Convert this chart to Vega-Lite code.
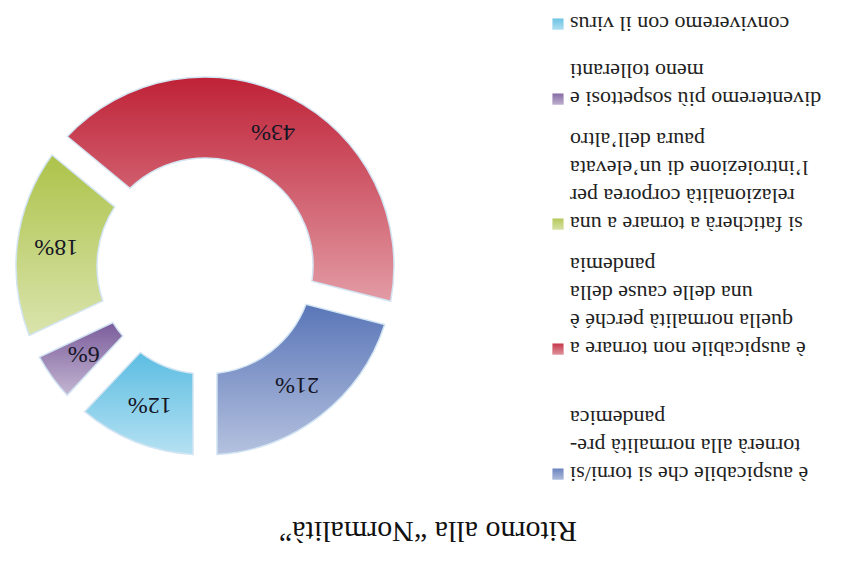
{
  "$schema": "https://vega.github.io/schema/vega-lite/v6.json",
  "padding": {"left": 0, "right": 0, "top": 12, "bottom": 0},
  "background": "white",
  "config": {"view": {"stroke": null}, "font": "Liberation Serif", "concat": {"spacing": 142}},
  "title": {"text": "Ritorno alla “Normalità”", "orient": "bottom", "angle": 180, "baseline": "bottom", "fontSize": 30, "fontWeight": "normal", "color": "#111111", "font": "Liberation Serif", "anchor": "middle", "offset": 8},
  "datasets": {
    "risposte": [
      {"voce": "è auspicabile che si torni/si\ntornerà alla normalità pre-\npandemica", "quota": 0.21, "ordine": 1, "riga": 0},
      {"voce": "è auspicabile non tornare a\nquella normalità perché è\nuna delle cause della\npandemia", "quota": 0.43, "ordine": 2, "riga": 5},
      {"voce": "si faticherà a tornare a una\nrelazionalità corporea per\nl’introiezione di un’elevata\npaura dell’altro", "quota": 0.18, "ordine": 3, "riga": 10},
      {"voce": "diventeremo più sospettosi e\nmeno tolleranti", "quota": 0.06, "ordine": 4, "riga": 15},
      {"voce": "conviveremo con il virus", "quota": 0.12, "ordine": 5, "riga": 18}
    ]
  },
  "data": {"name": "risposte"},
  "resolve": {"scale": {"color": "shared"}},
  "hconcat": [
    {
      "width": 410,
      "height": 484,
      "encoding": {
        "theta": {"field": "quota", "type": "quantitative", "stack": true, "scale": {"range": [3.141592653589793, 9.42477796076938]}},
        "order": {"field": "ordine", "sort": "descending"}
      },
      "layer": [
        {
          "mark": {"type": "arc", "innerRadius": 108, "outerRadius": 189, "padAngle": 0.11},
          "encoding": {
            "color": {
              "field": "voce", "type": "nominal", "legend": null,
              "scale": {
                "domain": [
                  "è auspicabile che si torni/si\ntornerà alla normalità pre-\npandemica",
                  "è auspicabile non tornare a\nquella normalità perché è\nuna delle cause della\npandemia",
                  "si faticherà a tornare a una\nrelazionalità corporea per\nl’introiezione di un’elevata\npaura dell’altro",
                  "diventeremo più sospettosi e\nmeno tolleranti",
                  "conviveremo con il virus"
                ],
                "range": ["#5a76b8", "#bf2237", "#adc34a", "#7a5c9b", "#5cbde2"]
              }
            }
          }
        },
        {
          "mark": {
            "type": "arc", "innerRadius": 108, "outerRadius": 189, "padAngle": 0.11,
            "stroke": "#d3e5f3", "strokeWidth": 1.5,
            "fill": {"gradient": "linear", "x1": 0, "y1": 0, "x2": 0, "y2": 1,
              "stops": [{"offset": 0, "color": "rgba(255,255,255,0)"}, {"offset": 1, "color": "rgba(255,255,255,0.55)"}]}
          }
        },
        {
          "mark": {"type": "text", "radius": 150, "angle": 180, "fontSize": 24, "font": "Liberation Serif", "color": "#151525"},
          "encoding": {"text": {"field": "quota", "type": "quantitative", "format": ".0%"}}
        }
      ]
    },
    {
      "width": 298,
      "height": 450,
      "encoding": {
        "y": {"field": "riga", "type": "quantitative", "scale": {"domain": [0, 18], "nice": false}, "axis": null},
        "x": {"datum": 0, "type": "quantitative", "scale": {"domain": [0, 1], "nice": false}, "axis": null}
      },
      "layer": [
        {
          "mark": {"type": "square", "size": 121, "filled": true, "opacity": 1},
          "encoding": {"color": {"field": "voce", "type": "nominal", "legend": null}}
        },
        {
          "mark": {"type": "square", "size": 121, "filled": true, "opacity": 1,
            "fill": {"gradient": "linear", "x1": 0, "y1": 0, "x2": 0, "y2": 1,
              "stops": [{"offset": 0, "color": "rgba(255,255,255,0.1)"}, {"offset": 1, "color": "rgba(255,255,255,0.5)"}]}}
        },
        {
          "mark": {"type": "text", "angle": 180, "align": "right", "baseline": "alphabetic", "dx": -12, "dy": 7, "lineBreak": "\n", "lineHeight": 28, "fontSize": 22, "font": "Liberation Serif", "color": "#222222"},
          "encoding": {"text": {"field": "voce", "type": "nominal"}}
        }
      ]
    }
  ]
}
